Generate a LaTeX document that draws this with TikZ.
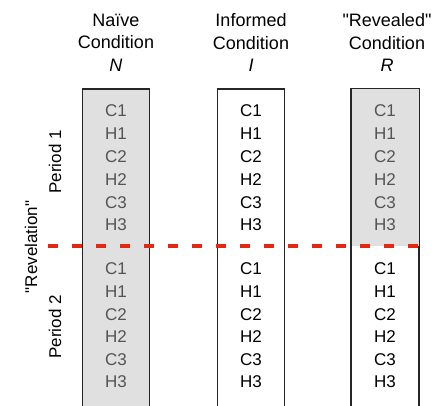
\documentclass[tikz,border=0pt]{standalone}
\usepackage{fontspec}
\setmainfont{Liberation Sans}[Ligatures=TeXOff]
\usetikzlibrary{positioning}
\definecolor{boxgray}{gray}{0.88}
\definecolor{boxgraytext}{gray}{0.33}
\definecolor{revred}{RGB}{228,38,18}

\begin{document}
\begin{tikzpicture}[x=1pt, y=1pt,
  head/.style = {align=center, inner sep=0pt, font=\fontsize{18}{22.5}\selectfont},
  cell/.style = {inner sep=0pt, font=\fontsize{17}{20}\selectfont},
  colbox/.style = {draw=black!85, line width=1.4pt, minimum width=67, minimum height=330, inner sep=0pt}
]

\useasboundingbox (0,0) rectangle (438,405);

% columns
\node[colbox, fill=boxgray] (nbox) at (116,151) {};
\node[colbox] (ibox) at (251,151) {};
\node[colbox] (rbox) at (385,151) {};

\coordinate (revl) at (48,159);
\coordinate (revr) at (rbox.east |- revl);
\fill[boxgray] (rbox.north west) rectangle (revr);
\draw[line width=1.4pt, draw=black!85] (rbox.south west) rectangle (rbox.north east);

% headers
\node[head] (nhead) at (116,362.5) {Naïve\\Condition\\\textit{N}};
\node[head] (ihead) at (251,362.5) {Informed\\Condition\\\textit{I}};
\node[head] (rhead) at (387,362.5) {"Revealed"\\Condition\\\textit{R}};

% rows
\foreach \t [count=\i] in {C1,H1,C2,H2,C3,H3} {
  \node[cell, text=boxgraytext] (na\i) at (116,{294-22.8*(\i-1)}) {\t};
  \node[cell] (ia\i) at (251,{294-22.8*(\i-1)}) {\t};
  \node[cell, text=boxgraytext] (ra\i) at (385,{294-22.8*(\i-1)}) {\t};
  \node[cell, text=boxgraytext] (nb\i) at (116,{136-22.6*(\i-1)}) {\t};
  \node[cell] (ib\i) at (251,{136-22.6*(\i-1)}) {\t};
  \node[cell] (rb\i) at (385,{136-22.6*(\i-1)}) {\t};
}

% periods
\node[cell, rotate=90] (p1) at (55,243) {Period 1};
\node[cell, rotate=90] (p2) at (55,78) {Period 2};
\node[cell, rotate=90] (rev) at (31,158) {"Revelation"};

\draw[revred, line width=4pt, dash pattern=on 10pt off 14pt] (revl) -- (revr);

\end{tikzpicture}
\end{document}
